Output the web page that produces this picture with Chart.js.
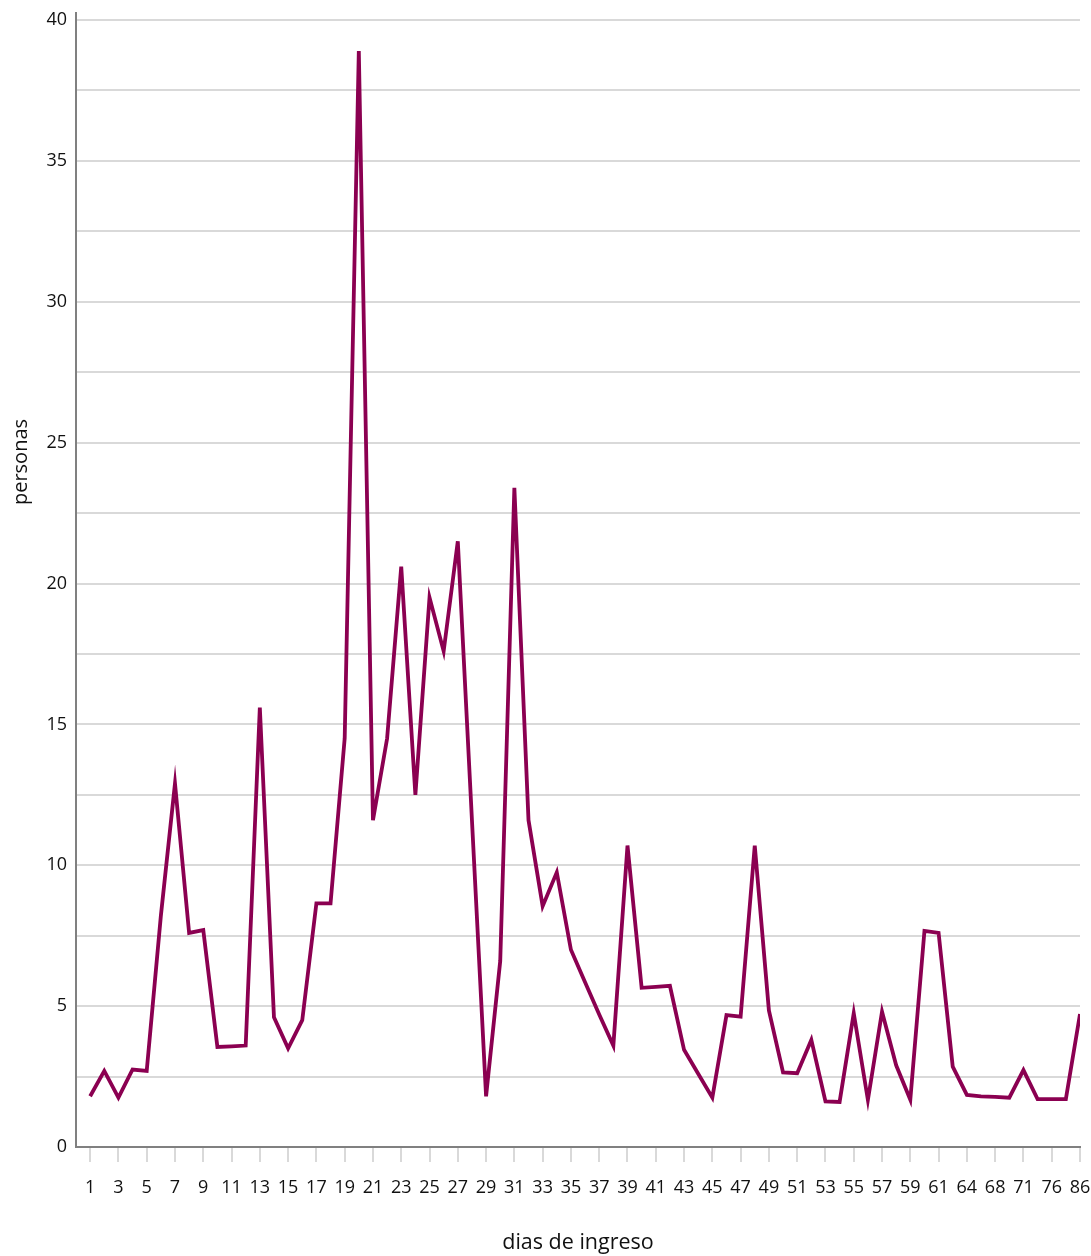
<!DOCTYPE html>
<html>
<head>
<meta charset="utf-8">
<script src="https://cdn.jsdelivr.net/npm/chart.js@4/dist/chart.umd.min.js"></script>
<style>
  html, body { margin: 0; padding: 0; background: #ffffff; }
  #wrap { width: 1091px; height: 1256px; position: relative; }
</style>
</head>
<body>
<div id="wrap"><canvas id="c" width="1091" height="1256"></canvas></div>
<script>
// Categories (días de ingreso) — only every other label is shown on the axis
const dias = [1,2,3,4,5,6,7,8,9,10,11,12,13,14,15,16,17,18,19,20,
  21,22,23,24,25,26,27,28,29,30,31,32,33,34,35,36,37,38,39,40,
  41,42,43,44,45,46,47,48,49,50,51,52,53,54,55,56,57,58,59,60,
  61,62,64,66,68,70,71,73,76,80,86];

// Series values (personas)
const personas = [1.8,2.7,1.75,2.75,2.7,8.2,12.9,7.6,7.7,3.55,
  3.57,3.6,15.6,4.6,3.5,4.5,8.65,8.65,14.5,38.9,
  11.6,14.5,20.6,12.5,19.5,17.6,21.5,11.6,1.8,6.6,
  23.4,11.6,8.55,9.75,7.0,5.85,4.7,3.6,10.7,5.65,
  5.68,5.72,3.45,2.6,1.75,4.68,4.63,10.7,4.85,2.65,
  2.62,3.8,1.62,1.6,4.75,1.67,4.8,2.9,1.68,7.67,
  7.6,2.85,1.85,1.8,1.78,1.75,2.73,1.7,1.7,1.7,
  4.72];

// Y axis tick values (labels every 5, grid every 2.5)
const yTicks = [0,2.5,5,7.5,10,12.5,15,17.5,20,22.5,25,27.5,30,32.5,35,37.5,40];

const xTitle = 'dias de ingreso';
const yTitle = 'personas';

const FONT = '"Open Sans", "DejaVu Sans", sans-serif';
const lineColor = '#8b0051';

const yTitlePlugin = {
  id: 'yTitle',
  afterDraw(chart) {
    const ctx = chart.ctx;
    ctx.save();
    ctx.translate(21, 462);
    ctx.rotate(-Math.PI / 2);
    ctx.font = '20px ' + FONT;
    ctx.fillStyle = '#111111';
    ctx.textAlign = 'center';
    ctx.textBaseline = 'middle';
    ctx.fillText(yTitle, 0, 0);
    ctx.restore();
  }
};

new Chart(document.getElementById('c'), {
  type: 'line',
  data: {
    datasets: [{
      data: personas.map((v, i) => ({ x: i, y: v })),
      borderColor: lineColor,
      backgroundColor: lineColor,
      borderWidth: 3.8,
      pointRadius: 0,
      pointHoverRadius: 0,
      tension: 0,
      fill: false
    }]
  },
  options: {
    responsive: false,
    animation: false,
    events: [],
    layout: { padding: { left: 0, right: 11, top: 13, bottom: 0 } },
    plugins: { legend: { display: false }, tooltip: { enabled: false } },
    scales: {
      x: {
        type: 'linear',
        min: -1,
        max: 70,
        afterBuildTicks(scale) {
          const t = [];
          for (let i = 0; i < dias.length; i += 2) t.push({ value: i });
          scale.ticks = t;
        },
        afterFit(scale) {
          scale.height = 109;
          scale.paddingLeft = 0;
          scale.paddingRight = 0;
        },
        grid: {
          drawOnChartArea: false,
          drawTicks: true,
          tickLength: 15,
          tickColor: '#d9d9d9',
          lineWidth: 2
        },
        border: { display: true, color: '#808080', width: 2 },
        ticks: {
          autoSkip: false,
          maxRotation: 0,
          padding: 15,
          color: '#111111',
          font: { family: FONT, size: 18 },
          callback: (v) => dias[v]
        },
        title: {
          display: true,
          text: xTitle,
          color: '#111111',
          font: { family: FONT, size: 21.5 },
          padding: { top: 26, bottom: 0 }
        }
      },
      y: {
        min: 0,
        max: 40.25,
        afterBuildTicks(scale) {
          scale.ticks = yTicks.map(v => ({ value: v }));
        },
        afterFit(scale) {
          scale.width = 76;
          scale.paddingTop = 0;
          scale.paddingBottom = 0;
        },
        grid: {
          color: '#d9d9d9',
          lineWidth: 2,
          drawTicks: false
        },
        border: { display: true, color: '#808080', width: 2 },
        ticks: {
          padding: 9,
          color: '#111111',
          font: { family: FONT, size: 18 },
          callback: (v) => (v % 5 === 0 ? String(v) : '')
        }
      }
    }
  },
  plugins: [yTitlePlugin]
});
</script>
</body>
</html>
